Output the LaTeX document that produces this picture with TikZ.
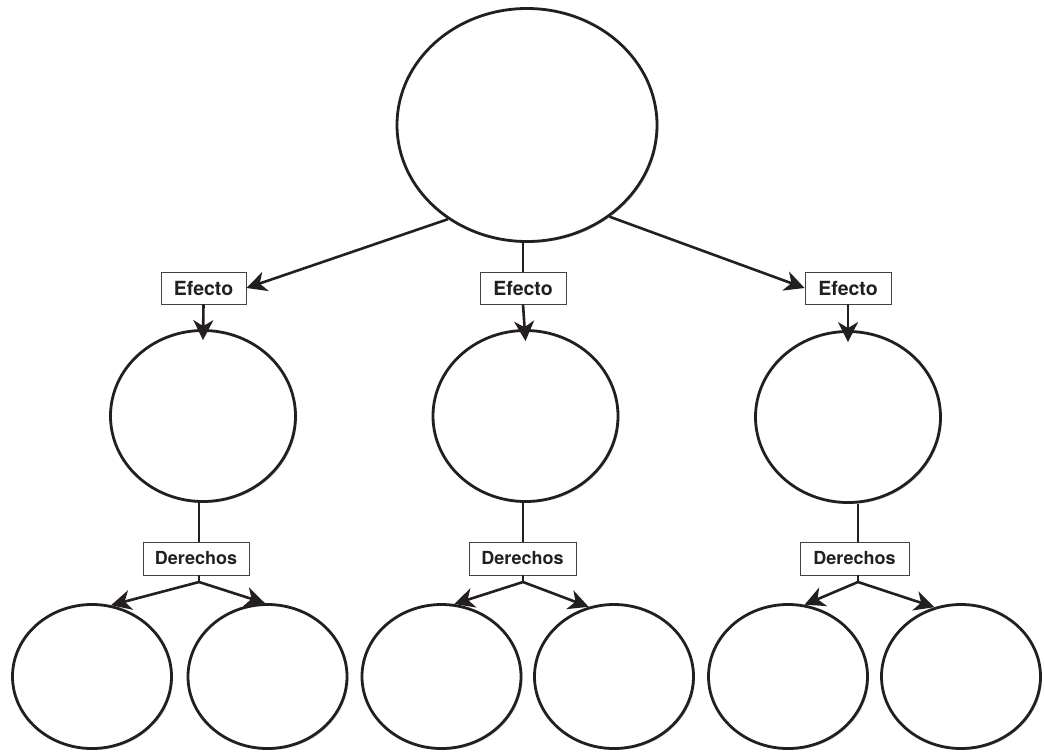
\documentclass[tikz,border=0pt]{standalone}
\usepackage{fontspec}
\setmainfont{TeX Gyre Heros}
\usetikzlibrary{shapes.geometric,arrows.meta,shadows}
\definecolor{ink}{HTML}{231F20}
\begin{document}
\begin{tikzpicture}[x=1pt,y=-1pt]
  \tikzstyle{bubble}=[ellipse,draw=ink,line width=2.8pt,fill=white,inner sep=0pt,
    drop shadow={shadow xshift=1.5pt,shadow yshift=-1.5pt,fill=black,opacity=.18}]
  \tikzstyle{bigbubble}=[bubble,minimum width=260pt,minimum height=233pt]
  \tikzstyle{midbubble}=[bubble,minimum width=185pt,minimum height=171pt]
  \tikzstyle{lowbubble}=[bubble,minimum width=159pt,minimum height=144pt]
  \tikzstyle{efbox}=[rectangle,draw=ink!85,line width=.9pt,fill=white,text=ink,
    minimum height=32pt,inner sep=0pt,font=\fontsize{19.5}{22}\selectfont\bfseries]
  \tikzstyle{derbox}=[efbox,minimum height=33pt,font=\fontsize{18}{20}\selectfont\bfseries]
  \tikzstyle{stem}=[draw=ink,line width=2.6pt]
  \tikzstyle{arrowline}=[stem,-{Stealth[length=20pt,width=20pt,inset=6pt]}]
  \useasboundingbox (0,0) rectangle (1044,753);
  \node[bigbubble] (top) at (527,125) {};
  \node[efbox,minimum width=85pt] (ef1) at (203.5,288) {Efecto};
  \node[efbox,minimum width=86pt] (ef2) at (523,288) {Efecto};
  \node[efbox,minimum width=86pt] (ef3) at (848,288) {Efecto};
  \node[midbubble] (c1) at (203,416) {};
  \node[midbubble] (c2) at (525.5,416) {};
  \node[midbubble] (c3) at (848,417) {};
  \node[derbox,minimum width=106pt] (der1) at (196,558.5) {Derechos};
  \node[derbox,minimum width=107pt] (der2) at (522.5,558.5) {Derechos};
  \node[derbox,minimum width=109pt] (der3) at (854.5,558.5) {Derechos};
  \coordinate (br1) at (199,582);
  \coordinate (br2) at (523,582);
  \coordinate (br3) at (858,582);
  \node[lowbubble] (b1) at (92,676.5) {};
  \node[lowbubble] (b2) at (267.5,676.5) {};
  \node[lowbubble] (b3) at (441.5,676.5) {};
  \node[lowbubble] (b4) at (614,676.5) {};
  \node[lowbubble] (b5) at (788,676.5) {};
  \node[lowbubble] (b6) at (961,676.5) {};
  \draw[arrowline] (top.230) -- (ef1.east);
  \draw[stem] (top.south -| ef2) -- (ef2.north);
  \draw[arrowline] (top.312) -- (ef3.west);
  \draw[arrowline] (ef1.south) -- ([yshift=-11pt]c1.north);
  \draw[arrowline] (ef2.south) -- ([yshift=-12pt]c2.north);
  \draw[arrowline] (ef3.south) -- ([yshift=-12pt]c3.north);
  \draw[stem] (br1 |- c1.south) -- (br1 |- der1.north);
  \draw[stem] (br2 |- c2.south) -- (br2 |- der2.north);
  \draw[stem] (br3 |- c3.south) -- (br3 |- der3.north);
  \draw[stem] (br1 |- der1.south) -- (br1);
  \draw[stem] (br2 |- der2.south) -- (br2);
  \draw[stem] (br3 |- der3.south) -- (br3);
  \draw[arrowline] (br1) -- (b1.75);
  \draw[arrowline] (br1) -- (b2.92);
  \draw[arrowline] (br2) -- (b3.80);
  \draw[arrowline] (br2) -- (b4.110);
  \draw[arrowline] (br3) -- (b5.77);
  \draw[arrowline] (br3) -- (b6.111);
\end{tikzpicture}
\end{document}
